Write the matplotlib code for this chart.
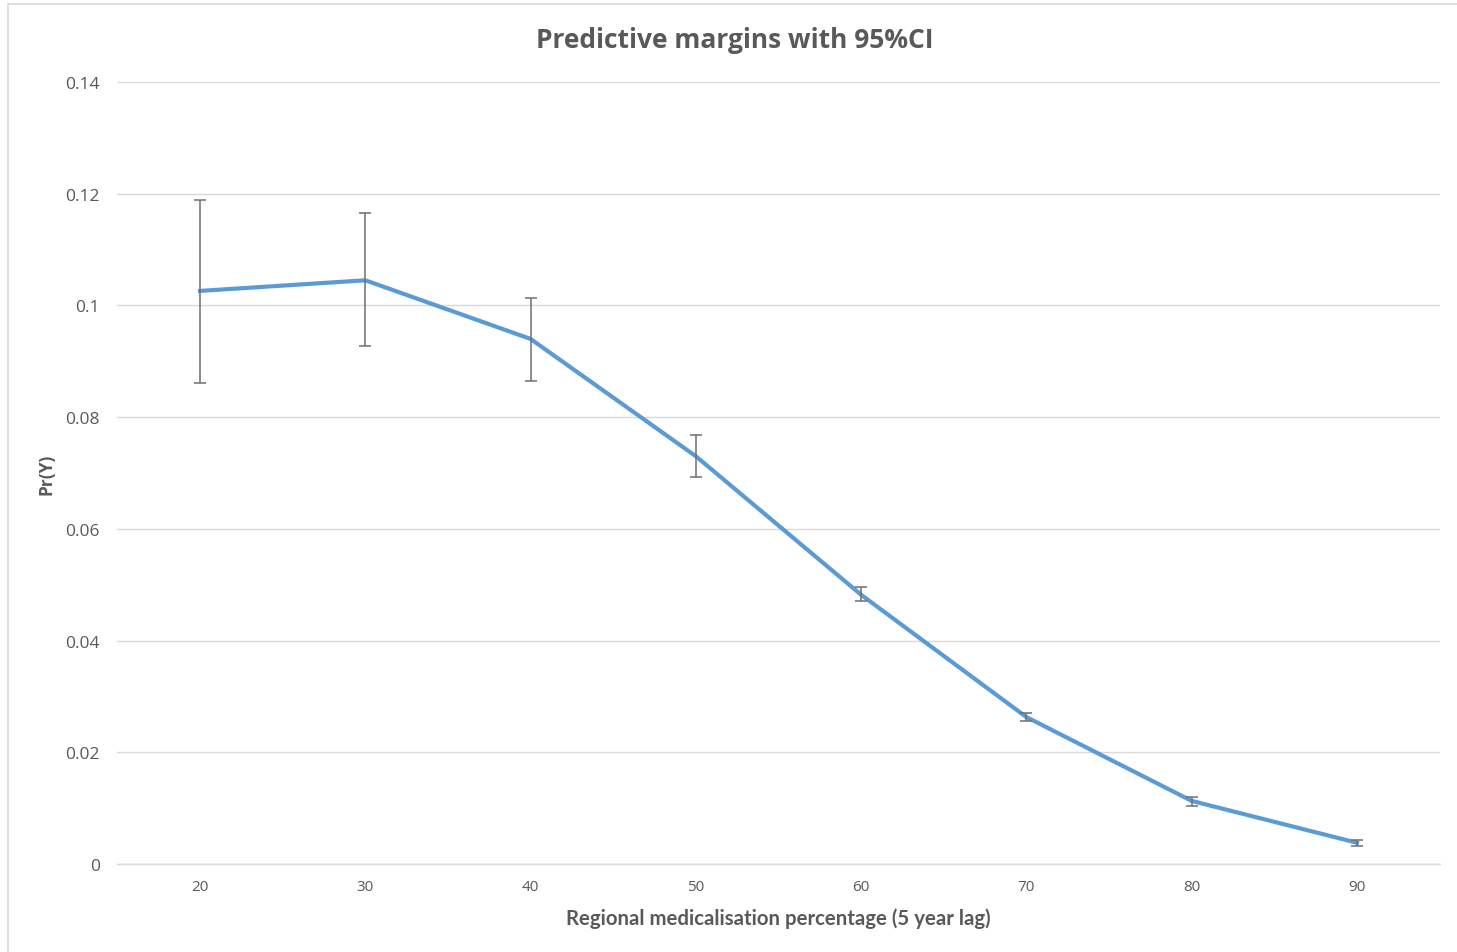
import matplotlib
matplotlib.use("Agg")
import matplotlib.pyplot as plt
from matplotlib.patches import Rectangle
import numpy as np

categories = ["20", "30", "40", "50", "60", "70", "80", "90"]
margin = [0.1026, 0.1045, 0.0940, 0.0730, 0.0482, 0.0263, 0.0113, 0.0038]
ci_upper = [0.1189, 0.1165, 0.1013, 0.0768, 0.0496, 0.0270, 0.0120, 0.0043]
ci_lower = [0.0861, 0.0927, 0.0865, 0.0693, 0.0471, 0.0256, 0.0104, 0.0032]
yticks = [0, 0.02, 0.04, 0.06, 0.08, 0.1, 0.12, 0.14]
ytick_labels = ["0", "0.02", "0.04", "0.06", "0.08", "0.1", "0.12", "0.14"]

plt.rcParams['font.family'] = ['Open Sans', 'DejaVu Sans']

W, H = 1457, 953
fig = plt.figure(figsize=(W / 100, H / 100), dpi=100)
fig.patch.set_facecolor("white")

# chart border
fig.add_artist(Rectangle((8 / W, -0.01), 1.02, 1 - 5 / H + 0.01, transform=fig.transFigure,
                         fill=False, edgecolor="#d9d9d9", linewidth=1.2))

left, right = 117.4 / W, 1439.6 / W
bottom, top = 1 - 865 / H, 1 - 83 / H
ax = fig.add_axes([left, bottom, right - left, top - bottom])

x = np.arange(len(categories))
m = np.array(margin)
yerr = [m - np.array(ci_lower), np.array(ci_upper) - m]

ax.plot(x, m, color="#5B9BD5", linewidth=3.0, solid_joinstyle="round", zorder=3)
ax.errorbar(x, m, yerr=yerr, fmt="none", ecolor="#6f6f6f", elinewidth=1.1,
            capsize=4.5, capthick=1.1, zorder=4)

ax.set_xlim(-0.5, len(categories) - 0.5)
ax.set_ylim(0, 0.14)
ax.set_yticks(yticks)
ax.set_yticklabels(ytick_labels)
ax.set_xticks(x)
ax.set_xticklabels(categories)

ax.grid(axis="y", color="#d9d9d9", linewidth=1.0)
ax.set_axisbelow(True)
for s in ["top", "right", "left"]:
    ax.spines[s].set_visible(False)
ax.spines["bottom"].set_color("#d9d9d9")
ax.spines["bottom"].set_linewidth(1.0)
ax.tick_params(axis="both", length=0, labelcolor="#595959")
ax.tick_params(axis="y", pad=12.5, labelsize=12.5)
ax.tick_params(axis="x", pad=11, labelsize=11)

fig.text(734.5 / W, 1 - 48 / H, "Predictive margins with 95%CI", ha="center", va="baseline",
         fontsize=19, fontweight="bold", color="#595959")
fig.text(778 / W, 1 - 925 / H, "Regional medicalisation percentage (5 year lag)",
         ha="center", va="baseline", fontsize=14.7, fontweight="bold", color="#595959",
         family=["Lato", "DejaVu Sans"])
fig.text(47 / W, 1 - 474 / H, "Pr(Y)", ha="center", va="center", rotation=90,
         fontsize=12.5, fontweight="bold", color="#595959")

fig.savefig("out.png", dpi=100, facecolor="white")
